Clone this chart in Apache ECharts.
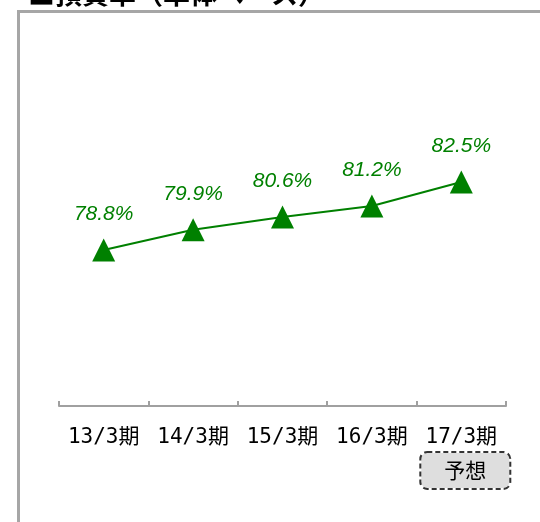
<!DOCTYPE html>
<html>
<head>
<meta charset="utf-8">
<script src="https://cdn.jsdelivr.net/npm/echarts@6/dist/echarts.min.js"></script>
<style>
  html, body { margin: 0; padding: 0; background: #fff; }
  #chart { width: 540px; height: 522px; }
</style>
</head>
<body>
<div id="chart"></div>
<script>
// 預貸率の推移（単体ベース）
var titleText = '■預貸率（単体ベース）';
var categories = ['13/3期', '14/3期', '15/3期', '16/3期', '17/3期'];
var ratios = [78.8, 79.9, 80.6, 81.2, 82.5];
var isForecast = [false, false, false, false, true];
var forecastText = '予想';

var GREEN = '#008000';
var CJK = '"Noto Sans CJK JP", "Noto Sans", sans-serif';

var chart = echarts.init(document.getElementById('chart'), null, { renderer: 'canvas' });

chart.setOption({
  animation: false,
  backgroundColor: '#ffffff',
  grid: { left: 59, right: 34, top: 44, height: 368, containLabel: false },
  graphic: [
    {
      type: 'rect',
      silent: true,
      shape: { x: 18.5, y: 11.5, width: 700, height: 700 },
      style: { fill: null, stroke: '#a6a6a6', lineWidth: 3 }
    },
    {
      type: 'text',
      silent: true,
      x: 28,
      y: 7,
      style: {
        text: titleText,
        fontSize: 27,
        fontWeight: 'bold',
        fontFamily: CJK,
        fill: '#000',
        textAlign: 'left',
        textVerticalAlign: 'bottom'
      }
    }
  ],
  xAxis: {
    type: 'category',
    data: categories,
    boundaryGap: true,
    offset: -6,
    axisLine: { show: true, lineStyle: { color: '#a0a0a0', width: 2 } },
    axisTick: { show: true, inside: true, length: 5, alignWithLabel: false,
                lineStyle: { color: '#a0a0a0', width: 2 } },
    splitLine: { show: false },
    axisLabel: {
      margin: 14,
      interval: 0,
      formatter: function (val, idx) {
        // forecast periods get a dashed tag under the period name
        return isForecast[idx]
          ? '{a|' + val + '}\n{s| }\n{p|}{f|' + forecastText + '}'
          : '{a|' + val + '}';
      },
      rich: {
        a: {
          fontSize: 21,
          lineHeight: 36,
          color: '#000',
          fontFamily: '"DejaVu Sans Mono", "Noto Sans CJK JP", monospace'
        },
        s: { fontSize: 1, lineHeight: 4 },
        p: { width: 8 },
        f: {
          fontSize: 21,
          lineHeight: 21,
          color: '#000',
          fontFamily: CJK,
          backgroundColor: '#dedede',
          borderColor: '#333333',
          borderWidth: 2,
          borderType: [5, 3],
          borderRadius: 6,
          padding: [7, 23, 7, 23]
        }
      }
    }
  },
  yAxis: {
    type: 'value',
    min: 70,
    max: 90,
    show: false,
    splitLine: { show: false }
  },
  series: [
    {
      type: 'line',
      data: ratios,
      symbol: 'triangle',
      symbolSize: [23, 23],
      lineStyle: { color: GREEN, width: 2 },
      itemStyle: { color: GREEN },
      label: {
        show: true,
        position: 'top',
        distance: 14,
        color: GREEN,
        fontSize: 21,
        fontStyle: 'italic',
        fontFamily: '"Liberation Sans", Arial, sans-serif',
        formatter: function (p) { return p.value.toFixed(1) + '%'; }
      }
    }
  ]
});
</script>
</body>
</html>
